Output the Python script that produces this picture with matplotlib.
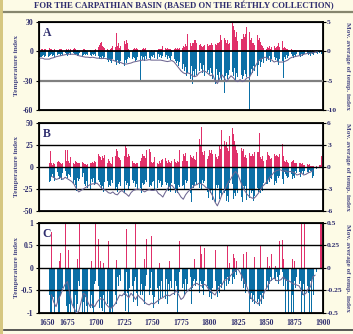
import numpy as np
import matplotlib
matplotlib.use('Agg')
import matplotlib.pyplot as plt
from matplotlib.patches import Rectangle
from matplotlib.lines import Line2D

plt.rcParams['font.family'] = ['Liberation Serif', 'DejaVu Serif']
plt.rcParams['font.weight'] = 'bold'
plt.rcParams['axes.unicode_minus'] = False

title = "FOR THE CARPATHIAN BASIN (BASED ON THE R\u00c9THLY COLLECTION)"

# yearly bars, 1651-1900 (one row per decade)
years = np.arange(1651, 1901)

# panel A: temperature index (warm / cold part)
a_warm = [
    0, 2, 2, 0, 2, 2, 2, 0, 3, 2,
    2, 1, 0, 2, 1, 0, 0, 2, 2, 2,
    0, 1, 0, 2, 1, 2, 0, 2, 3, 2,
    3, 2, 0, 1, 0, 0, 0, 0, 2, 2,
    1, 0, 0, 0, 1, 0, 0, 0, 1, 2,
    5, 4, 6, 8, 10, 5, 4, 3, 4, 2,
    1, 0, 2, 3, 5, 6, 4, 19, 5, 8,
    3, 5, 6, 9, 11, 7, 12, 8, 2, 0,
    1, 0, 2, 3, 2, 3, 2, 0, 1, 0,
    2, 3, 2, 3, 0, 1, 0, 0, 1, 0,
    0, 1, 0, 0, 2, 2, 2, 2, 5, 3,
    3, 2, 3, 2, 2, 2, 1, 2, 2, 3,
    2, 3, 2, 3, 2, 3, 5, 4, 7, 5,
    18, 6, 9, 5, 9, 8, 12, 12, 8, 11,
    6, 7, 5, 4, 5, 6, 4, 7, 5, 6,
    6, 8, 6, 9, 7, 6, 9, 8, 10, 17,
    12, 10, 14, 12, 8, 12, 7, 9, 16, 30,
    26, 22, 15, 20, 11, 10, 9, 13, 13, 18,
    15, 18, 25, 24, 20, 12, 14, 9, 8, 6,
    24, 17, 12, 14, 10, 6, 5, 3, 4, 2,
    4, 3, 5, 2, 4, 3, 5, 3, 4, 5,
    8, 4, 10, 11, 3, 4, 3, 2, 2, 1,
    1, 2, 1, 0, 1, 1, 0, 1, 0, 1,
    1, 0, 1, 1, 0, 1, 0, 0, 1, 0,
    1, 0, 6, 1, 0, 0, 0, 0, 0, 0,
]
a_cold = [
    -6, -6, -5, -4, -6, -5, -4, -6, -5, -4,
    -3, -5, -4, -6, -3, -4, -3, -3, -5, -3,
    -4, -3, -2, -3, -5, -3, -2, -4, -3, -2,
    -3, -4, -3, -5, -4, -2, -3, -5, -4, -3,
    -4, -3, -4, -3, -4, -5, -3, -4, -3, -5,
    -6, -5, -8, -6, -7, -5, -8, -6, -10, -9,
    -11, -9, -10, -12, -8, -13, -10, -14, -9, -12,
    -13, -10, -14, -11, -15, -9, -12, -8, -6, -7,
    -5, -8, -6, -7, -10, -9, -6, -8, -30, -5,
    -9, -6, -10, -5, -8, -4, -7, -9, -5, -6,
    -4, -7, -5, -8, -3, -6, -4, -7, -5, -3,
    -6, -4, -8, -5, -7, -9, -5, -6, -8, -10,
    -12, -10, -15, -11, -14, -18, -13, -20, -16, -25,
    -22, -17, -28, -15, -33, -20, -26, -18, -24, -15,
    -20, -12, -18, -22, -14, -25, -16, -21, -19, -23,
    -17, -22, -28, -20, -33, -18, -24, -30, -21, -26,
    -30, -20, -43, -25, -22, -28, -24, -19, -27, -21,
    -25, -17, -30, -22, -26, -20, -52, -24, -28, -25,
    -19, -23, -26, -30, -60, -24, -18, -22, -15, -20,
    -12, -25, -14, -10, -16, -11, -8, -12, -6, -10,
    -7, -9, -5, -11, -8, -12, -6, -9, -7, -10,
    -14, -8, -18, -10, -27, -6, -8, -4, -7, -5,
    -6, -3, -5, -7, -4, -6, -3, -5, -4, -6,
    -3, -5, -4, -3, -6, -2, -4, -3, -5, -2,
    -3, -4, -8, -2, -3, -1, -2, -1, -3, -1,
]
# moving average (right axis), every second year 1651-1895
a_ma_years = np.arange(1651, 1896, 2)
a_ma = [
    -1.17, -1.17, -1.33, -1.33, -1.33, -1.17, -1.08, -0.92, -0.83, -0.75,
    -0.67, -0.58, -0.5, -0.5, -0.5, -0.5, -0.58, -0.75, -0.83, -0.92,
    -1.0, -1.0, -1.08, -1.0, -1.08, -1.17, -1.17, -1.25, -1.17, -1.25,
    -1.33, -1.42, -1.5, -1.67, -1.83, -1.83, -2.0, -2.17, -2.17, -2.08,
    -2.0, -1.83, -1.75, -1.67, -1.58, -1.5, -1.5, -1.5, -1.42, -1.5,
    -1.5, -1.5, -1.5, -1.5, -1.58, -1.67, -1.75, -1.67, -1.58, -1.83,
    -2.33, -2.83, -3.33, -3.67, -3.83, -3.67, -3.83, -4.17, -4.33, -4.17,
    -3.67, -3.5, -3.33, -3.5, -3.83, -4.17, -4.0, -5.0, -5.5, -4.67,
    -4.0, -4.5, -5.17, -4.67, -4.17, -4.5, -5.0, -5.17, -4.83, -5.17,
    -5.0, -4.5, -4.5, -3.83, -3.0, -2.33, -1.67, -1.33, -1.17, -1.0,
    -1.17, -1.33, -1.5, -1.83, -1.67, -1.83, -1.83, -1.83, -1.67, -1.5,
    -1.17, -1.0, -0.92, -0.83, -0.75, -0.67, -0.5, -0.42, -0.33, -0.33,
    -0.25, -0.17, -0.08,
]

# panel B
b_warm = [
    0, 0, 0, 0, 0, 0, 0, 0, 4, 18,
    5, 2, 4, 3, 5, 6, 7, 6, 4, 3,
    4, 5, 19, 7, 19, 7, 4, 11, 10, 4,
    3, 7, 6, 5, 4, 5, 7, 6, 4, 3,
    3, 2, 3, 5, 4, 5, 6, 5, 7, 6,
    18, 15, 12, 11, 8, 13, 10, 14, 6, 5,
    9, 7, 4, 3, 11, 8, 12, 20, 18, 11,
    10, 8, 9, 15, 12, 25, 22, 11, 15, 13,
    14, 7, 5, 4, 3, 4, 5, 9, 7, 10,
    15, 12, 13, 10, 19, 15, 20, 17, 6, 5,
    6, 11, 9, 4, 3, 7, 5, 8, 9, 6,
    10, 7, 5, 8, 6, 4, 7, 11, 9, 6,
    5, 7, 6, 19, 9, 7, 15, 12, 16, 7,
    7, 15, 14, 11, 10, 12, 9, 8, 17, 15,
    32, 25, 45, 17, 14, 18, 11, 9, 12, 19,
    16, 19, 15, 12, 15, 11, 9, 12, 25, 20,
    42, 20, 30, 24, 28, 22, 18, 35, 27, 44,
    37, 30, 25, 19, 16, 15, 13, 22, 18, 20,
    11, 14, 10, 19, 16, 12, 13, 15, 13, 17,
    14, 17, 17, 39, 11, 9, 12, 7, 6, 8,
    17, 14, 12, 9, 10, 8, 15, 12, 14, 13,
    11, 15, 13, 26, 12, 7, 6, 8, 6, 5,
    8, 6, 7, 8, 5, 4, 5, 3, 4, 4,
    3, 4, 2, 2, 3, 3, 2, 3, 1, 1,
    1, 1, 9, 1, 0, 0, 2, 2, 12, 3,
]
b_cold = [
    0, 0, 0, 0, 0, 0, 0, 0, -17, -16,
    -11, -8, -12, -16, -9, -6, -10, -14, -12, -15,
    -7, -9, -5, -10, -12, -8, -9, -11, -7, -19,
    -15, -21, -27, -13, -16, -14, -9, -11, -7, -19,
    -22, -16, -24, -20, -26, -14, -17, -13, -21, -19,
    -18, -15, -17, -20, -26, -22, -28, -17, -21, -16,
    -23, -20, -22, -15, -18, -14, -26, -23, -28, -19,
    -17, -22, -28, -25, -30, -16, -20, -18, -25, -22,
    -24, -15, -18, -16, -23, -19, -25, -28, -24, -30,
    -18, -21, -19, -15, -17, -16, -23, -20, -22, -17,
    -16, -25, -22, -24, -15, -18, -16, -23, -20, -22,
    -17, -20, -18, -27, -23, -28, -18, -21, -19, -29,
    -25, -30, -20, -23, -17, -22, -20, -25, -15, -18,
    -16, -35, -30, -40, -20, -24, -21, -17, -20, -18,
    -24, -19, -25, -15, -18, -16, -33, -28, -35, -26,
    -29, -25, -38, -33, -40, -20, -24, -21, -36, -30,
    -33, -26, -30, -27, -39, -33, -40, -18, -22, -19,
    -36, -30, -33, -26, -30, -27, -39, -34, -40, -22,
    -25, -22, -37, -31, -35, -26, -30, -27, -39, -33,
    -40, -24, -28, -25, -30, -25, -27, -18, -21, -19,
    -19, -14, -17, -12, -14, -12, -21, -16, -18, -10,
    -12, -10, -18, -14, -19, -6, -8, -10, -12, -11,
    -6, -8, -14, -10, -13, -5, -7, -9, -6, -11,
    -7, -4, -8, -5, -9, -6, -7, -3, -5, -4,
    -12, -10, -14, -2, 0, 0, 0, 0, 0, 0,
]
b_ma_years = np.arange(1661, 1892, 2)
b_ma = [
    -1.3, -1.4, -1.7, -1.6, -1.4, -1.7, -1.4, -1.6, -1.8, -2.0,
    -2.4, -3.0, -3.4, -3.2, -3.0, -2.8, -2.6, -2.4, -2.3, -2.3,
    -2.2, -2.5, -2.9, -3.1, -3.2, -3.5, -3.6, -3.4, -3.7, -3.8,
    -3.4, -3.2, -3.5, -3.7, -4.0, -3.5, -3.2, -3.1, -3.0, -3.1,
    -3.2, -3.4, -3.2, -3.1, -3.2, -3.2, -3.1, -3.6, -3.8, -4.1,
    -3.5, -3.0, -2.6, -2.5, -2.9, -3.2, -3.6, -4.1, -4.4, -3.8,
    -3.4, -3.1, -2.8, -2.5, -2.4, -2.2, -2.3, -2.5, -2.8, -3.0,
    -3.4, -4.0, -4.8, -5.3, -4.6, -3.8, -3.2, -2.6, -2.0, -1.6,
    -1.0, -0.6, -1.0, -1.8, -2.6, -3.2, -3.7, -4.0, -4.2, -4.3,
    -4.0, -3.6, -3.1, -2.6, -2.3, -1.9, -1.4, -1.1, -0.7, -0.5,
    -0.4, -0.4, -0.6, -0.5, -0.7, -0.6, -0.7, -0.8, -1.1, -1.0,
    -0.8, -1.1, -1.0, -0.8, -0.7, -0.5,
]

# panel C
c_warm = [
    0, 0, 0, 0, 0, 0, 0, 0, 0, 0,
    0.8, 0, 0, 0, 0, 0, 0, 0.15, 0.33, 0,
    0, 1.0, 1.0, 0, 0, 0.4, 0, 0, 0, 0,
    0, 0, 0, 0.2, 0, 1.0, 1.0, 0, 0, 0,
    0, 0, 0, 0, 0, 0.15, 0, 0, 0, 1.0,
    1.0, 0.65, 0, 0.15, 0, 0, 0.1, 0, 0, 0,
    0.6, 0, 0, 0, 0, 0, 0, 0.18, 0, 0,
    0, 0, 0, 0, 0, 0, 0.87, 0, 0, 0,
    0, 0, 0, 0, 1.0, 0, 0, 0, 0, 0,
    0, 0, 0.2, 0, 0.64, 0, 0, 0, 0.72, 0,
    0, 0, 0, 0, 0, 0.1, 0, 0, 0, 0,
    0, 0, 0, 0, 0.15, 0, 0, 0, 0, 0,
    0, 0, 0, 0.6, 0.3, 0, 0, 0, 0, 0,
    0, 0, 0, 0, 0, 0, 0.2, 0, 0, 0.05,
    0, 0.5, 0.3, 0, 0, 0.45, 0, 0, 0, 0,
    0, 0, 0, 0, 0.4, 0, 0, 0, 0, 0,
    0, 0, 0, 0, 0, 0.5, 0, 0.1, 0, 0,
    0.3, 0.22, 0, 0.15, 0, 0.1, 0, 0, 0, 0.3,
    0, 0, 0.35, 0, 0, 0, 0, 0, 0, 0.25,
    0, 0, 0, 0, 0.5, 0, 0, 0, 0, 0,
    0.25, 0, 0.05, 0, 0.3, 0, 0, 0.05, 0, 0,
    0, 0.6, 0, 0.62, 0.2, 0, 0, 0, 0, 0,
    1.0, 0, 0.2, 0, 0.15, 0, 0, 1.0, 0, 0,
    1.0, 0, 0, 1.0, 0, 0, 0, 0, 0, 0,
    0, 0, 0, 0, 0, 0, 0, 1.0, 1.0, 1.0,
]
c_cold = [
    0, 0, 0, 0, 0, 0, 0, 0, -0.6, -1,
    -1, -0.7, -0.65, -1, -0.7, -0.75, -1, -1, -0.6, -0.5,
    -0.45, -0.4, -0.5, -0.85, -1, -1, -0.8, -1, -0.7, -0.9,
    -1, -0.6, -1, -0.8, -0.3, -0.4, -0.35, -1, -0.75, -1,
    -0.65, -0.85, -1, -0.55, -0.9, -0.6, -0.9, -1, -0.35, -0.3,
    -0.2, -0.4, -0.9, -0.65, -0.9, -0.95, -0.6, -1, -1, -0.8,
    -0.5, -1, -1, -0.9, -1, -0.75, -0.6, -0.8, -0.2, -0.4,
    -0.15, -0.3, -0.65, -0.5, -0.6, -0.95, -0.1, -0.55, -1, -0.45,
    -0.6, -0.4, -0.75, -0.3, -0.2, -0.55, -0.85, -0.5, -0.6, -0.35,
    -0.6, -0.5, -0.8, -0.4, -0.15, -0.9, -0.6, -0.45, -0.1, -0.6,
    -0.9, -0.65, -0.75, -0.45, -0.8, -0.4, -0.7, -0.3, -0.65, -0.55,
    -0.7, -0.25, -0.8, -0.35, -0.5, -0.3, -0.45, -0.2, -0.6, -0.3,
    -0.4, -1, -0.55, -0.1, -0.3, -0.45, -0.35, -0.6, -0.25, -0.5,
    -0.35, -0.55, -0.2, -0.8, -0.45, -0.3, -0.25, -0.4, -0.3, -0.5,
    -0.55, -0.3, -0.35, -0.45, -0.6, -0.3, -1, -0.4, -0.5, -0.65,
    -0.55, -0.7, -0.45, -0.6, -0.3, -0.5, -0.65, -0.4, -0.55, -0.35,
    -0.45, -0.3, -0.5, -0.25, -0.4, -0.2, -0.35, -0.3, -0.15, -0.35,
    -0.2, -0.25, -0.1, -0.15, -0.05, -0.05, -0.1, -0.3, -0.2, -0.45,
    -0.35, -0.55, -0.4, -0.6, -1, -0.7, -0.55, -0.75, -0.6, -0.8,
    -0.65, -0.75, -0.7, -0.85, -0.6, -0.8, -0.55, -0.7, -0.5, -0.45,
    -0.3, -0.5, -0.35, -0.2, -0.3, -0.15, -0.25, -0.3, -0.1, -0.2,
    -0.35, -0.15, -0.3, -0.1, -0.4, -0.25, -1, -0.3, -0.5, -1,
    -0.35, -1, -0.6, -1, -0.3, -0.45, -0.2, -1, -0.35, -0.3,
    -1, -0.6, -0.35, -1, -0.2, -0.4, -0.55, -1, -0.3, -1,
    -0.25, -0.6, -0.15, -0.1, 0, 0, 0, 0, 0, 0,
]
c_ma_years = np.arange(1661, 1894, 2)
c_ma = [
    -0.3, -0.38, -0.43, -0.35, -0.3, -0.23, -0.18, -0.15, -0.28, -0.4,
    -0.45, -0.5, -0.48, -0.38, -0.28, -0.3, -0.38, -0.43, -0.4, -0.43,
    -0.38, -0.35, -0.34, -0.35, -0.4, -0.43, -0.45, -0.43, -0.4, -0.35,
    -0.3, -0.31, -0.28, -0.3, -0.33, -0.28, -0.31, -0.35, -0.3, -0.33,
    -0.35, -0.38, -0.4, -0.41, -0.39, -0.4, -0.38, -0.36, -0.34, -0.33,
    -0.31, -0.3, -0.31, -0.29, -0.28, -0.25, -0.3, -0.35, -0.33, -0.28,
    -0.25, -0.23, -0.2, -0.18, -0.17, -0.19, -0.2, -0.18, -0.19, -0.23,
    -0.25, -0.28, -0.3, -0.25, -0.21, -0.19, -0.14, -0.13, -0.11, -0.08,
    -0.05, -0.03, -0.01, -0.05, -0.1, -0.15, -0.21, -0.28, -0.34, -0.36,
    -0.38, -0.4, -0.36, -0.31, -0.25, -0.21, -0.15, -0.13, -0.11, -0.14,
    -0.14, -0.13, -0.1, -0.13, -0.14, -0.15, -0.17, -0.18, -0.19, -0.2,
    -0.25, -0.3, -0.28, -0.23, -0.21, -0.1, -0.08,
]

x_ticks = [1650, 1675, 1700, 1725, 1750, 1775, 1800, 1825, 1850, 1875, 1900]

cream = '#fdfbe6'
navy = '#2e2d6e'
label_col = '#4a4a86'
warm_col = '#e0306a'
cold_col = '#0b6fa6'
ma_col = '#6e6792'

fig = plt.figure(figsize=(3.53, 3.34), dpi=100, facecolor=cream)

# frame decorations
fig.add_artist(Rectangle((0, 0), 0.009, 1, transform=fig.transFigure,
                         facecolor='#d6c780', edgecolor='none'))
fig.add_artist(Line2D([0.011, 1], [0.963, 0.963], transform=fig.transFigure,
                      color='#86866e', lw=1.6))
fig.add_artist(Line2D([0.011, 1], [0.011, 0.011], transform=fig.transFigure,
                      color='#3c3c3c', lw=1.2))
fig.text(0.522, 0.983, title, ha='center', va='center', fontsize=6.3,
         color=navy, fontweight='bold')


def panel(rect, letter, warm, cold, ylim, yticks, ylabels, grid,
          ma_x, ma_y, rlim, rticks, rlabels, last=False):
    ax = fig.add_axes(rect)
    ax.set_facecolor('white')
    ax.bar(years, warm, width=0.75, color=warm_col, linewidth=0, zorder=2)
    ax.bar(years, cold, width=0.75, color=cold_col, linewidth=0, zorder=2)
    for val, col, lw in grid:
        ax.axhline(val, color=col, lw=lw, zorder=3)
    ax.set_xlim(1650, 1900)
    ax.set_ylim(*ylim)
    ax.set_yticks(yticks)
    ax.set_yticklabels(ylabels)
    ax.set_xticks(x_ticks)
    if last:
        ax.set_xticklabels([str(t) for t in x_ticks])
        ax.get_xticklabels()[0].set_horizontalalignment('left')
    else:
        ax.set_xticklabels([])
    ax.tick_params(axis='x', length=0, pad=4, labelsize=5.6, labelcolor=navy)
    ax.tick_params(axis='y', length=2.5, width=0.8, pad=1.5, labelsize=5.6,
                   labelcolor=navy, direction='out')
    for s in ax.spines.values():
        s.set_linewidth(1.3)
    ax.text(0.012, 0.84, letter, transform=ax.transAxes, fontsize=8.5,
            color=navy, fontweight='bold', zorder=5)

    ax2 = ax.twinx()
    ax2.plot(ma_x, ma_y, color=ma_col, lw=0.75, zorder=4)
    ax2.set_ylim(*rlim)
    ax2.set_yticks(rticks)
    ax2.set_yticklabels(rlabels)
    ax2.tick_params(axis='y', length=2.0, width=0.8, pad=1.0, labelsize=5.4,
                    labelcolor=navy, direction='out')

    # axis titles at fixed positions, as in the original layout
    yc = rect[1] + rect[3] / 2
    fig.text(0.048, yc, 'Temperature index', rotation=90, ha='center',
             va='center', fontsize=5.4, color=label_col, fontweight='bold')
    fig.text(0.984, yc, 'Mov. average of temp. index', rotation=270,
             ha='center', va='center', fontsize=5.2, color=label_col,
             fontweight='bold')
    return ax


panel([0.1105, 0.6707, 0.8045, 0.2635], 'A', a_warm, a_cold, (-60, 30),
      [30, 0, -30, -60], ['30', '0', '-30', '-60'],
      [(0, 'black', 1.3), (-30, '#808080', 1.6)],
      a_ma_years, a_ma, (-10, 5), [5, 0, -5, -10], ['5', '0', '-5', '-10'])

panel([0.1105, 0.3683, 0.8045, 0.2635], 'B', b_warm, b_cold, (-50, 50),
      [50, 25, 0, -25, -50], ['50', '25', '0', '-25', '-50'],
      [(25, 'black', 1.0), (0, 'black', 1.0), (-25, 'black', 1.0)],
      b_ma_years, b_ma, (-6, 6), [6, 3, 0, -3, -6],
      ['6', '3', '0', '-3', '-6'])

panel([0.1105, 0.0629, 0.8045, 0.2695], 'C', c_warm, c_cold, (-1, 1),
      [1, 0.5, 0, -0.5, -1], ['1', '0.5', '0', '-0.5', '-1'],
      [(0.5, 'black', 1.0), (0, 'black', 1.0), (-0.5, 'black', 1.0)],
      c_ma_years, c_ma, (-0.5, 0.5), [0.5, 0.25, 0, -0.25, -0.5],
      ['0.5', '0.25', '0', '-0.25', '-0.5'], last=True)

fig.savefig('out.png', dpi=100, facecolor=cream)
